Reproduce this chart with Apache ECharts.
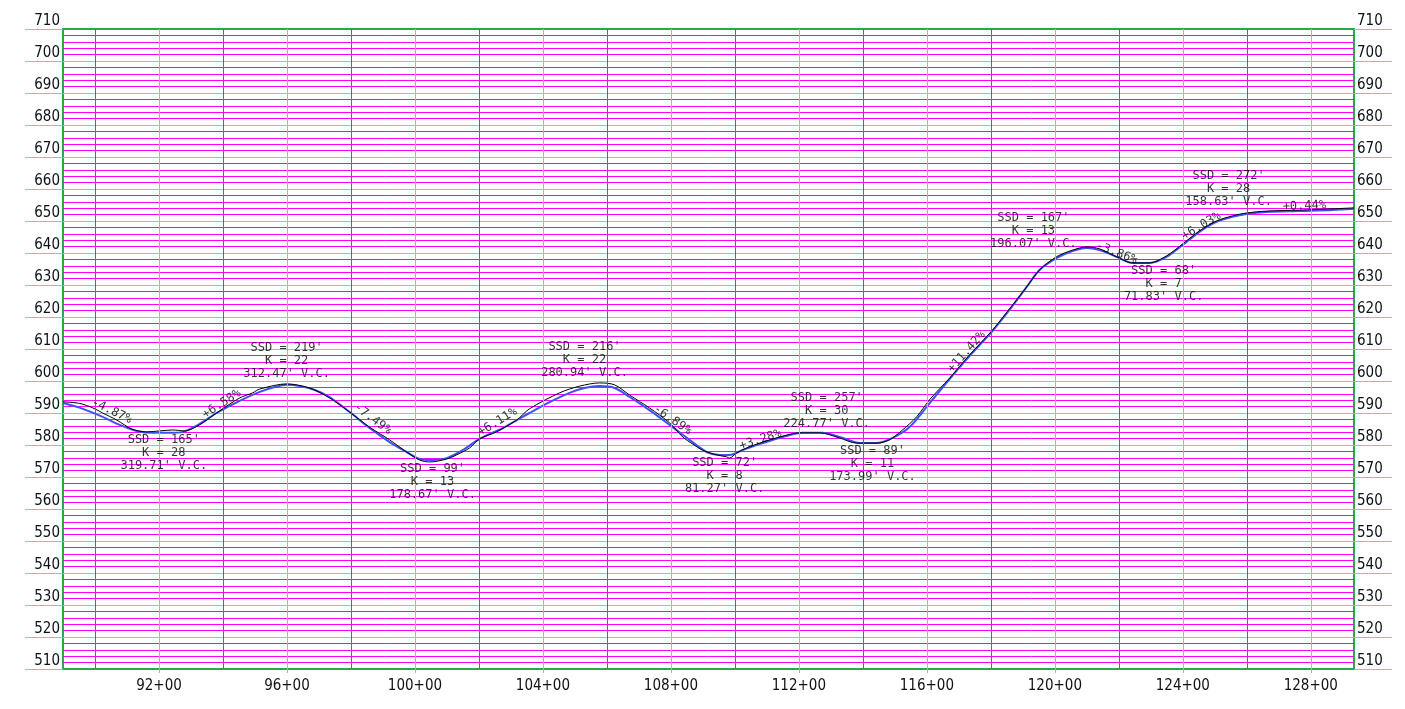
<!DOCTYPE html>
<html>
<head>
<meta charset="utf-8">
<title>Profile 89+00 to 129+35</title>
<script src="https://cdn.jsdelivr.net/npm/echarts@6/dist/echarts.min.js"></script>
<style>
  html, body { margin: 0; padding: 0; background: #ffffff; }
  #chart { width: 1405px; height: 709px; }
</style>
</head>
<body>
<div id="chart"></div>
<script>
// Design grade line: station (ft) and elevation (ft)
const designStation = [8900, 8962, 9024, 9077, 9130, 9180, 9233, 9274, 9327, 9380, 9452, 9515, 9562, 9599, 9640, 9687, 9733, 9796, 9858, 9921, 9974, 10015, 10055, 10099, 10149, 10202, 10274, 10358, 10421, 10483, 10530, 10577, 10624, 10671, 10733, 10796, 10858, 10912, 10952, 10983, 11024, 11087, 11149, 11212, 11274, 11337, 11390, 11443, 11493, 11546, 11608, 11671, 11733, 11805, 11858, 11912, 11952, 12005, 12055, 12099, 12140, 12193, 12243, 12296, 12349, 12399, 12452, 12505, 12555, 12599, 12662, 12765, 12868, 12935];
const designElev = [593.1, 591.3, 588.8, 586.3, 584.4, 583.8, 583.8, 584.1, 586.6, 590.0, 593.8, 596.6, 598.1, 598.8, 598.4, 597.2, 595.0, 590.3, 585.3, 580.9, 577.8, 575.6, 575.3, 575.9, 578.4, 581.9, 585.3, 590.0, 593.4, 596.3, 597.8, 598.4, 597.8, 595.0, 590.9, 586.3, 581.6, 577.8, 576.9, 576.9, 578.4, 580.6, 582.5, 583.8, 583.8, 582.2, 580.6, 580.6, 582.2, 585.6, 593.0, 600.6, 607.8, 615.6, 622.2, 629.4, 634.7, 638.4, 640.6, 641.6, 640.9, 638.8, 636.9, 636.9, 638.8, 642.5, 646.6, 649.7, 651.3, 652.2, 652.8, 653.1, 653.4, 653.8];

// Existing ground line: station (ft) and elevation (ft)
const groundStation = [8900, 8952, 8993, 9024, 9068, 9115, 9162, 9202, 9243, 9280, 9327, 9380, 9452, 9493, 9515, 9599, 9671, 9733, 9796, 9858, 9921, 9974, 10015, 10046, 10099, 10130, 10171, 10202, 10255, 10318, 10358, 10452, 10515, 10577, 10624, 10671, 10733, 10796, 10837, 10868, 10899, 10943, 10974, 10983, 11005, 11037, 11087, 11140, 11202, 11265, 11327, 11380, 11443, 11483, 11524, 11568, 11608, 11671, 11733, 11805, 11858, 11912, 11952, 12005, 12055, 12099, 12140, 12193, 12243, 12296, 12349, 12399, 12452, 12505, 12555, 12599, 12662, 12765, 12868, 12935];
const groundElev = [593.5, 593.0, 591.6, 590.0, 587.8, 585.0, 584.1, 584.4, 584.7, 584.4, 586.3, 590.0, 594.7, 596.3, 597.5, 599.1, 597.8, 594.7, 590.3, 585.6, 581.6, 577.8, 575.3, 574.7, 575.6, 576.9, 579.1, 581.9, 584.1, 587.8, 591.3, 596.3, 598.4, 599.4, 598.8, 595.6, 591.6, 586.9, 582.5, 580.3, 578.4, 576.9, 576.3, 575.9, 577.5, 579.1, 580.9, 582.5, 583.8, 583.8, 582.2, 580.6, 580.6, 581.6, 584.7, 588.8, 594.1, 600.9, 608.1, 615.9, 622.5, 629.4, 634.7, 638.8, 640.9, 641.9, 641.3, 638.8, 636.9, 636.9, 639.1, 642.8, 646.9, 650.0, 651.6, 652.5, 653.1, 653.4, 653.8, 654.1];

// Vertical curve notes: anchor station / elevation, sight distance, K, curve length
const curveStation = [9215, 9599, 10055, 10530, 10968, 11287, 11430, 11933, 12340, 12543];
const curveElev = [577.5, 606.3, 568.4, 606.6, 570.3, 590.6, 574.1, 646.9, 630.3, 660.0];
const curveSSD = [165, 219, 99, 216, 72, 257, 89, 167, 68, 272];
const curveK = [28, 22, 13, 22, 8, 30, 11, 13, 7, 28];
const curveVC = ['319.71', '312.47', '178.67', '280.94', '81.27', '224.77', '173.99', '196.07', '71.83', '158.63'];

// Tangent grades: anchor station / elevation and grade in percent
const gradeStation = [9052, 9396, 9868, 10258, 10805, 11080, 11724, 12193, 12458, 12780];
const gradeElev = [590.6, 592.8, 588.1, 587.2, 587.8, 581.6, 609.1, 640.0, 648.4, 654.7];
const gradePct = [-4.87, 6.58, -7.49, 6.11, -6.89, 3.28, 11.42, -3.86, 6.03, 0.44];

// Grid stations (every 200 ft) and station tick labels
const gridStations = [9000, 9200, 9400, 9600, 9800, 10000, 10200, 10400, 10600, 10800, 11000, 11200, 11400, 11600, 11800, 12000, 12200, 12400, 12600, 12800];
const stationTicks = [9200, 9600, 10000, 10400, 10800, 11200, 11600, 12000, 12400, 12800];
const stationLabels = ['92+00', '96+00', '100+00', '104+00', '108+00', '112+00', '116+00', '120+00', '124+00', '128+00'];

const X_MIN = 8900, X_MAX = 12935, Y_MIN = 510, Y_MAX = 710;
const GREEN = 'rgb(90, 240, 100)';
const MAGENTA = 'rgb(255, 0, 255)';
const BORDER = 'rgb(40, 170, 70)';
const AXIS_FONT = '"Liberation Sans Narrow", "DejaVu Sans Condensed", sans-serif';
const NOTE_FONT = '"DejaVu Sans Mono", monospace';

const designData = designStation.map((s, i) => [s, designElev[i]]);
const groundData = groundStation.map((s, i) => [s, groundElev[i]]);
const curveData = curveStation.map((s, i) => ({
  value: [s, curveElev[i]],
  text: 'SSD = ' + curveSSD[i] + "'\nK = " + curveK[i] + '\n' + curveVC[i] + "' V.C."
}));

// vertical grid: green at labelled stations, magenta between
const verticalLines = gridStations.map(s => ({
  xAxis: s,
  lineStyle: { color: stationTicks.indexOf(s) >= 0 ? GREEN : MAGENTA, width: 1, type: 'solid' }
}));

function gradeText(g) {
  return (g >= 0 ? '+' : '-') + Math.abs(g).toFixed(2) + '%';
}

function yAxisCommon(position) {
  return {
    type: 'value',
    position: position,
    min: Y_MIN,
    max: Y_MAX,
    interval: 10,
    axisLine: { show: false },
    axisTick: { show: true, length: 38, lineStyle: { color: GREEN, width: 1 } },
    axisLabel: {
      show: true,
      margin: 3,
      verticalAlign: 'bottom',
      color: '#111',
      fontFamily: AXIS_FONT,
      fontSize: 15,
      lineHeight: 15
    },
    minorTick: { show: false, splitNumber: 5 },
    splitLine: { show: false },
    minorSplitLine: { show: false }
  };
}

const leftY = yAxisCommon('left');
leftY.splitLine = { show: true, showMinLine: false, showMaxLine: false, lineStyle: { color: GREEN, width: 1 } };
leftY.minorSplitLine = { show: true, lineStyle: { color: MAGENTA, width: 1 } };
const rightY = yAxisCommon('right');

const option = {
  animation: false,
  backgroundColor: '#ffffff',
  grid: {
    left: 63, right: 51, top: 29, bottom: 40,
    show: true,
    borderColor: BORDER,
    borderWidth: 2,
    backgroundColor: 'rgba(0,0,0,0)'
  },
  xAxis: [
    {
      type: 'value',
      position: 'bottom',
      min: X_MIN,
      max: X_MAX,
      axisLine: { show: false },
      axisTick: { show: true, customValues: stationTicks, length: 4, lineStyle: { color: GREEN, width: 1 } },
      axisLabel: {
        show: true,
        customValues: stationTicks,
        margin: 10,
        color: '#111',
        fontFamily: AXIS_FONT,
        fontSize: 15,
        formatter: v => {
          const i = stationTicks.indexOf(v);
          return i >= 0 ? stationLabels[i] : '';
        }
      },
      splitLine: { show: false }
    }
  ],
  yAxis: [leftY, rightY],
  series: [
    {
      name: 'Grid',
      type: 'line',
      data: [],
      silent: true,
      z: 1,
      markLine: {
        silent: true,
        symbol: ['none', 'none'],
        label: { show: false },
        animation: false,
        data: verticalLines
      }
    },
    {
      name: 'Design',
      type: 'line',
      data: designData,
      showSymbol: false,
      smooth: 0.3,
      lineStyle: { color: '#3f50f5', width: 2 },
      z: 3,
      silent: true
    },
    {
      name: 'Ground',
      type: 'line',
      data: groundData,
      showSymbol: false,
      smooth: 0.3,
      lineStyle: { color: '#000000', width: 1 },
      z: 4,
      silent: true
    },
    {
      name: 'Curves',
      type: 'scatter',
      symbolSize: 0,
      data: curveData,
      silent: true,
      z: 5,
      label: {
        show: true,
        position: 'inside',
        align: 'center',
        verticalAlign: 'middle',
        formatter: p => p.data.text,
        color: '#000',
        fontFamily: NOTE_FONT,
        fontSize: 12,
        lineHeight: 13
      }
    },
    {
      name: 'Grades',
      type: 'scatter',
      symbolSize: 0,
      data: [],
      silent: true,
      z: 5
    }
  ]
};

const chart = echarts.init(document.getElementById('chart'));
chart.setOption(option);

// Grade text follows the on-screen slope of each tangent
const a = chart.convertToPixel({ xAxisIndex: 0, yAxisIndex: 0 }, [10000, 600]);
const b = chart.convertToPixel({ xAxisIndex: 0, yAxisIndex: 0 }, [10100, 610]);
const pxPerFtX = (b[0] - a[0]) / 100;
const pxPerFtY = (a[1] - b[1]) / 10;
const gradeData = gradeStation.map((s, i) => {
  const angle = Math.atan(gradePct[i] / 100 * pxPerFtY / pxPerFtX) * 180 / Math.PI;
  return {
    value: [s, gradeElev[i]],
    label: {
      show: true,
      position: 'inside',
      align: 'center',
      verticalAlign: 'middle',
      rotate: angle,
      formatter: gradeText(gradePct[i]),
      color: '#000',
      fontFamily: NOTE_FONT,
      fontSize: 12
    }
  };
});
chart.setOption({ series: [{}, {}, {}, {}, { data: gradeData }] });
</script>
</body>
</html>
